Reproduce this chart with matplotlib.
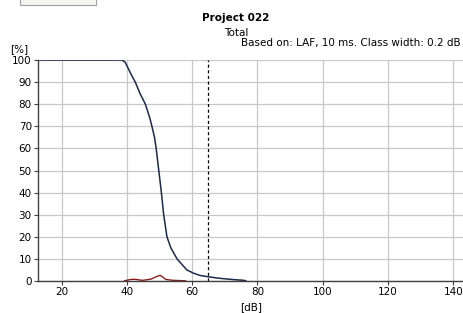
import numpy as np
import matplotlib
matplotlib.use('Agg')
import matplotlib.pyplot as plt
from matplotlib.patches import Rectangle

# cumulative level distribution (percent of time level exceeded)
cum_db = [13, 38.5, 39.5, 40.5, 41.5, 42.6, 44, 45.7, 47, 47.7, 48.5, 49, 49.8,
          50.6, 51.3, 52.3, 53.5, 55.4, 58.4, 60.5, 62.5, 65, 68, 70, 73, 76, 76.5]
cum_pct = [100, 100, 99, 96, 93, 90, 85, 80, 74, 70, 65, 60, 50,
           40, 30, 20, 15, 10, 5, 3.5, 2.5, 1.9, 1.3, 1.0, 0.6, 0.3, 0]

# class distribution
cls_db = [39.3, 40.5, 41.5, 42.6, 43.8, 44.8, 46.3, 47.5, 48.8, 50.2, 51.0, 51.9, 53.0, 54.3, 56, 58]
cls_pct = [0.1, 0.5, 0.75, 0.75, 0.5, 0.3, 0.6, 0.9, 1.8, 2.6, 1.8, 0.75, 0.5, 0.3, 0.2, 0.1]

marker_db = 65

plt.rcParams['font.family'] = ['DejaVu Sans']
fig = plt.figure(figsize=(4.63, 3.13), dpi=100)
ax = fig.add_axes([0.0821, 0.1022, 0.9179, 0.7061])

ax.plot(cum_db, cum_pct, color='#1b2a48', lw=1.1)
ax.plot(cls_db, cls_pct, color='#8b1c1c', lw=1.0)
ax.axvline(marker_db, color='black', lw=0.9, ls=(0, (2.5, 2)))

ax.set_xlim(12.8, 143)
ax.set_ylim(0, 100)
ax.set_xticks([20, 40, 60, 80, 100, 120, 140])
ax.set_yticks(np.arange(0, 101, 10))
ax.grid(True, color='#c8c8c8', lw=0.9)
ax.set_axisbelow(True)
for s in ['top', 'right']:
    ax.spines[s].set_visible(False)
for s in ['left', 'bottom']:
    ax.spines[s].set_color('#404040')
    ax.spines[s].set_linewidth(1.0)
ax.tick_params(axis='both', labelsize=7.5, length=3, width=0.8, color='#404040', pad=1.5)

fig.text(0.0216, 0.843, '[%]', fontsize=7.5, ha='left', va='center')
fig.text(0.542, 0.02, '[dB]', fontsize=7.5, ha='center', va='center')
fig.text(0.51, 0.942, 'Project 022', fontsize=7.5, fontweight='bold', ha='center', va='center')
fig.text(0.51, 0.895, 'Total', fontsize=7.5, ha='center', va='center')
fig.text(0.995, 0.862, 'Based on: LAF, 10 ms. Class width: 0.2 dB', fontsize=7.5,
         ha='right', va='center')

fig.patches.append(Rectangle((0.043, 0.985), 0.164, 0.02, transform=fig.transFigure,
                             facecolor='#f4f4f0', edgecolor='#a0a0a0', lw=0.8))

fig.savefig('out.png', dpi=100)
